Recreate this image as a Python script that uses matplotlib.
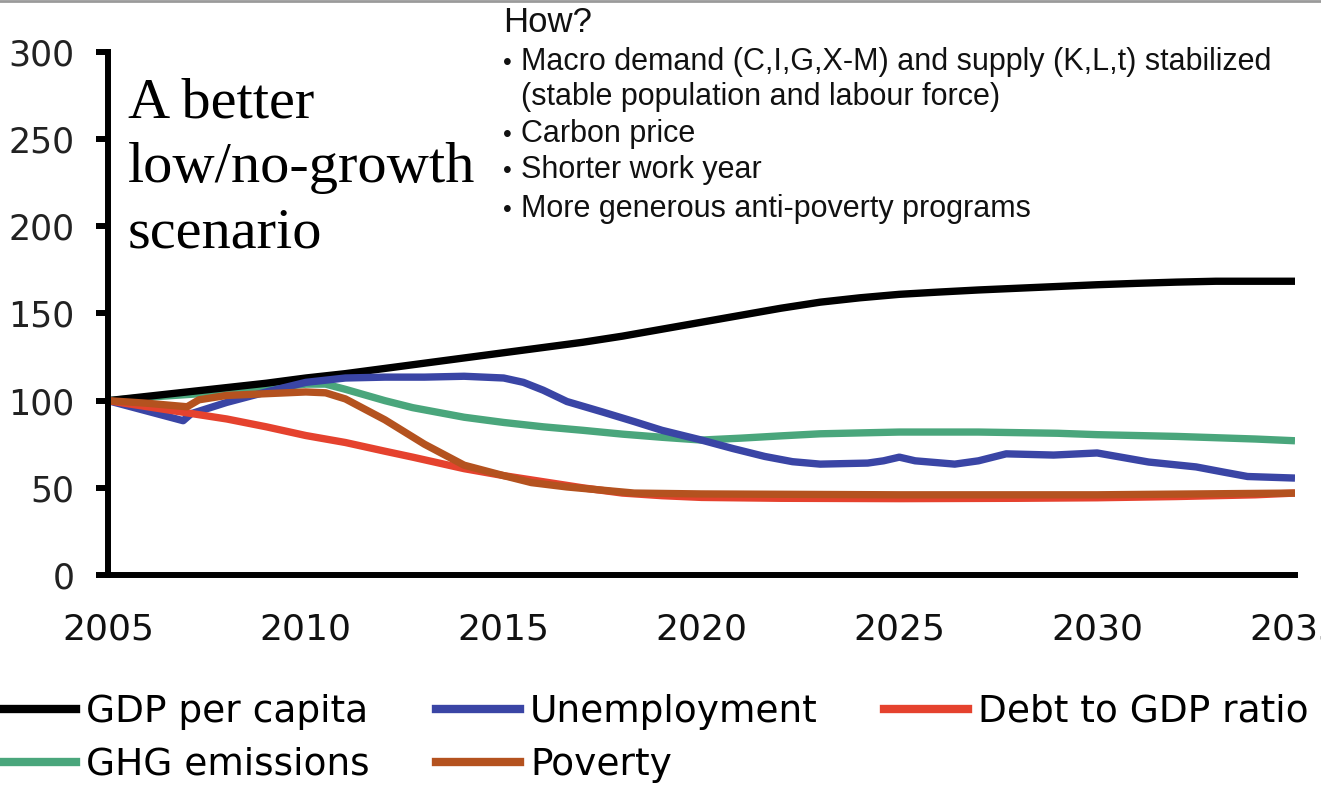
import matplotlib
matplotlib.use("Agg")
import matplotlib.pyplot as plt
from matplotlib.lines import Line2D

# Index values, 2005 = 100
gdp_years = [2005, 2007, 2008, 2009, 2010, 2011, 2012, 2013, 2014, 2015, 2016, 2017,
             2018, 2019, 2020, 2021, 2022, 2023, 2024, 2025, 2026, 2027, 2028, 2029,
             2030, 2031, 2032, 2033, 2034, 2035]
gdp = [100, 105, 107.5, 110, 113, 115.5, 118.5, 121.5, 124.5, 127.5, 130.5, 133.5,
       137, 141, 145, 149, 153, 156.5, 159, 161, 162.3, 163.5, 164.5, 165.5,
       166.5, 167.3, 168, 168.5, 168.5, 168.5]

unemp_years = [2005, 2006.9, 2007.1, 2008, 2009, 2010, 2011, 2012, 2013, 2014, 2015,
               2015.5, 2016, 2016.6, 2017.5, 2018.3, 2019, 2020, 2020.8, 2021.6, 2022.3,
               2023, 2024.2, 2024.6, 2025, 2025.4, 2026.4, 2027, 2027.7, 2028.9, 2030,
               2030.5, 2031.3, 2032.5, 2033.2, 2033.8, 2035]
unemp = [100, 88.5, 92.5, 99, 105, 110.5, 113, 113.5, 113.5, 114, 113,
         110.5, 106, 99.5, 93.5, 88, 83, 77.4, 72.5, 68, 65,
         63.6, 64.2, 65.5, 67.6, 65.5, 63.6, 65.5, 69.5, 68.8, 70,
         68, 64.8, 62, 59, 56.5, 55.6]

debt_years = [2005, 2007, 2008, 2009, 2010, 2011, 2012, 2012.7, 2014, 2015, 2016, 2017,
              2018, 2019, 2020, 2022, 2025, 2028, 2030, 2032, 2034, 2035]
debt = [100, 93, 89.5, 85, 80, 76, 71, 67.6, 61, 57, 53.5, 50,
        47, 45.5, 44.5, 44, 43.8, 44, 44.3, 45, 46, 47]

ghg_years = [2005, 2006, 2007, 2008, 2009, 2010, 2010.5, 2011, 2012, 2012.7, 2014, 2015,
             2016, 2017, 2018, 2019, 2020, 2021, 2022, 2023, 2024, 2025, 2027, 2029,
             2030, 2032, 2034, 2035]
ghg = [100, 102, 103.5, 105, 107, 109.5, 109.5, 106.5, 100, 96, 90.5, 87.5,
       85, 83, 80.8, 79, 77.4, 78.5, 79.8, 81, 81.5, 82, 82, 81.3,
       80.5, 79.5, 78, 77]

pov_years = [2005, 2006, 2007, 2007.3, 2008, 2009, 2010, 2010.5, 2011, 2012, 2013, 2014,
             2015, 2015.7, 2016.6, 2018.3, 2020, 2025, 2030, 2035]
pov = [100, 98.5, 96.5, 100.5, 103, 104, 105, 104.5, 101, 89, 75, 63,
       57, 53, 50.5, 47, 46.5, 46, 46, 47]

x_ticks = [2005, 2010, 2015, 2020, 2025, 2030, 2035]
y_ticks = [0, 50, 100, 150, 200, 250, 300]

heading = ["A better", "low/no-growth", "scenario"]
measures = ["How?",
            "Macro demand (C,I,G,X-M) and supply (K,L,t) stabilized",
            "(stable population and labour force)",
            "Carbon price",
            "Shorter work year",
            "More generous anti-poverty programs"]

c_gdp = "#000000"
c_unemp = "#3a45a5"
c_debt = "#e5422e"
c_ghg = "#4aa67c"
c_pov = "#b4521f"

W, H = 1321, 791
fig = plt.figure(figsize=(W / 100, H / 100), dpi=100)
ax = fig.add_axes([108 / W, 216 / H, (1295 - 108) / W, (575 - 52) / H])

lw = 5.3
l_ghg, = ax.plot(ghg_years, ghg, color=c_ghg, lw=lw, solid_capstyle="butt")
l_gdp, = ax.plot(gdp_years, gdp, color=c_gdp, lw=lw, solid_capstyle="butt")
l_unemp, = ax.plot(unemp_years, unemp, color=c_unemp, lw=lw, solid_capstyle="butt")
l_debt, = ax.plot(debt_years, debt, color=c_debt, lw=lw, solid_capstyle="butt")
l_pov, = ax.plot(pov_years, pov, color=c_pov, lw=lw, solid_capstyle="butt")

ax.set_xlim(2005, 2035)
ax.set_ylim(0, 300)
ax.set_xticks(x_ticks)
ax.set_yticks(y_ticks)
for s in ["top", "right"]:
    ax.spines[s].set_visible(False)
for s in ["left", "bottom"]:
    ax.spines[s].set_linewidth(4.3)
ax.tick_params(axis="y", direction="out", length=9, width=4.3, pad=15,
               labelsize=25, labelcolor="#222222")
ax.tick_params(axis="x", length=0, pad=27, labelsize=26, labelcolor="#111111")

# scenario heading
for txt, base in zip(heading, [117, 182, 247]):
    fig.text(128 / W, 1 - base / H, txt, family="Liberation Serif",
             fontsize=42, va="baseline", ha="left")

# policy list
fig.text(503 / W, 1 - 32 / H, measures[0], family="Liberation Sans",
         fontsize=25, color="#111111", va="baseline")
baselines = [70, 105, 142, 178, 217]
for i, txt in enumerate(measures[1:]):
    y = 1 - baselines[i] / H
    if not txt.startswith("("):
        fig.text(503 / W, y, "\u2022", family="Liberation Sans", fontsize=18,
                 color="#111111", va="baseline")
    fig.text(521 / W, y, txt, family="Liberation Sans", fontsize=22,
             color="#111111", va="baseline")

# legend, filled column by column
handles = [l_gdp, l_ghg, l_unemp, l_pov, l_debt]
labels = ["GDP per capita", "GHG emissions", "Unemployment", "Poverty",
          "Debt to GDP ratio"]
leg_handles = [Line2D([], [], color=h.get_color(), lw=6) for h in handles]
fig.legend(leg_handles, labels, ncol=3, loc="upper left",
           bbox_to_anchor=(-8 / W, 1 - 694 / H), frameon=False,
           fontsize=27, handlelength=2.24, handletextpad=0.27,
           columnspacing=1.76, labelspacing=0.45, borderpad=0, borderaxespad=0)

fig.add_artist(Line2D([0, 1], [1 - 1 / H, 1 - 1 / H], color="#9a9a9a", lw=2))

fig.savefig("out.png", dpi=100)
